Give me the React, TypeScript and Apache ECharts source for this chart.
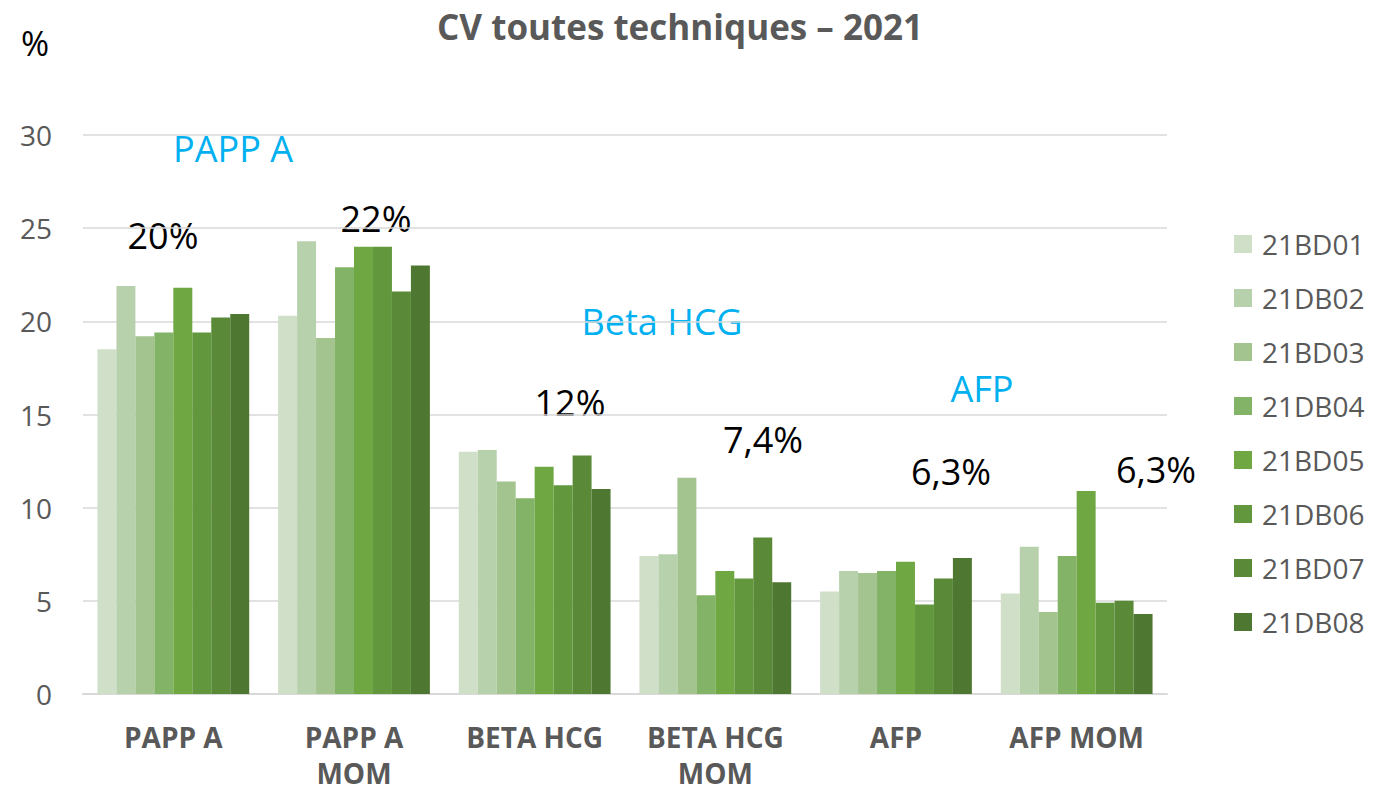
import React, { useEffect, useRef } from "react";
import * as echarts from "echarts";

const categories = ["PAPP A", "PAPP A\nMOM", "BETA HCG", "BETA HCG\nMOM", "AFP", "AFP MOM"];
const seriesNames = ["21BD01", "21DB02", "21BD03", "21DB04", "21BD05", "21DB06", "21BD07", "21DB08"];
const colors = ["#d0dfc8", "#b8d1ad", "#a3c48f", "#83b366", "#6fa743", "#62973e", "#5a8a38", "#4e7731"];
// values per series, across the 6 categories
const s01 = [18.5, 20.3, 13.0, 7.4, 5.5, 5.4];
const s02 = [21.9, 24.3, 13.1, 7.5, 6.6, 7.9];
const s03 = [19.2, 19.1, 11.4, 11.6, 6.5, 4.4];
const s04 = [19.4, 22.9, 10.5, 5.3, 6.6, 7.4];
const s05 = [21.8, 24.0, 12.2, 6.6, 7.1, 10.9];
const s06 = [19.4, 24.0, 11.2, 6.2, 4.8, 4.9];
const s07 = [20.2, 21.6, 12.8, 8.4, 6.2, 5.0];
const s08 = [20.4, 23.0, 11.0, 6.0, 7.3, 4.3];
const seriesValues = [s01, s02, s03, s04, s05, s06, s07, s08];
const yTicks = [0, 5, 10, 15, 20, 25, 30];

const cvLabels = ["20%", "22%", "12%", "7,4%", "6,3%", "6,3%"];
const testLabels = ["PAPP A", "Beta HCG", "AFP"];

const FONT = "'Open Sans', 'Noto Sans', sans-serif";

export default function App() {
  const ref = useRef<HTMLDivElement>(null);
  useEffect(() => {
    if (!ref.current) return;
    document.body.style.margin = "0";
    const chart = echarts.init(ref.current, undefined, { renderer: "svg" });
    const big = { fontFamily: FONT, fontSize: 36, fill: "#000" };
    const cyan = { fontFamily: FONT, fontSize: 36, fill: "#00b0f0" };
    const cvPos = [[163, 235], [376, 218], [570, 402], [763, 439], [951, 471], [1156, 469]];
    const testPos = [[233, 148], [662, 321], [982, 388]];
    chart.setOption({
      animation: false,
      backgroundColor: "#fff",
      textStyle: { fontFamily: FONT },
      title: {
        text: "CV toutes techniques – 2021",
        left: 680,
        textAlign: "center",
        top: 6,
        padding: 0,
        textStyle: { fontFamily: FONT, fontSize: 35, lineHeight: 40, fontWeight: "bold", color: "#595959" },
      },
      legend: {
        orient: "vertical",
        left: 1234,
        top: 230,
        padding: 0,
        itemWidth: 18,
        itemHeight: 18,
        itemGap: 26,
        icon: "rect",
        textStyle: { fontFamily: FONT, fontSize: 28, lineHeight: 28, color: "#595959", padding: [0, 0, 0, 5] },
        data: seriesNames,
      },
      grid: { left: 83, right: 226, top: 135, bottom: 101, containLabel: false, outerBoundsMode: "none" },
      xAxis: {
        type: "category",
        data: categories,
        axisLine: { lineStyle: { color: "#d9d9d9", width: 2 } },
        axisTick: { show: false },
        axisLabel: {
          interval: 0,
          margin: 25,
          fontFamily: FONT,
          fontSize: 28,
          fontWeight: "bold",
          color: "#595959",
          lineHeight: 36,
        },
      },
      yAxis: {
        type: "value",
        min: yTicks[0],
        max: yTicks[yTicks.length - 1],
        interval: 5,
        axisLine: { show: false },
        axisTick: { show: false },
        splitLine: { lineStyle: { color: "#d9d9d9", width: 1.5 } },
        axisLabel: { margin: 31, fontFamily: FONT, fontSize: 28, color: "#595959" },
      },
      series: seriesNames.map((name, i) => ({
        name,
        type: "bar",
        data: seriesValues[i],
        itemStyle: { color: colors[i] },
        barGap: "0%",
        barCategoryGap: "16%",
      })),
      graphic: [
        { type: "text", x: 21, y: 26, style: { text: "%", fontFamily: FONT, fontSize: 34, fill: "#000" } },
        ...cvLabels.map((t, i) => ({
          type: "text",
          x: cvPos[i][0],
          y: cvPos[i][1],
          style: { ...big, text: t, textAlign: "center", textVerticalAlign: "middle" },
        })),
        ...testLabels.map((t, i) => ({
          type: "text",
          x: testPos[i][0],
          y: testPos[i][1],
          style: { ...cyan, text: t, textAlign: "center", textVerticalAlign: "middle" },
        })),
      ],
    });
    return () => chart.dispose();
  }, []);
  return <div ref={ref} style={{ width: 1393, height: 795 }} />;
}
